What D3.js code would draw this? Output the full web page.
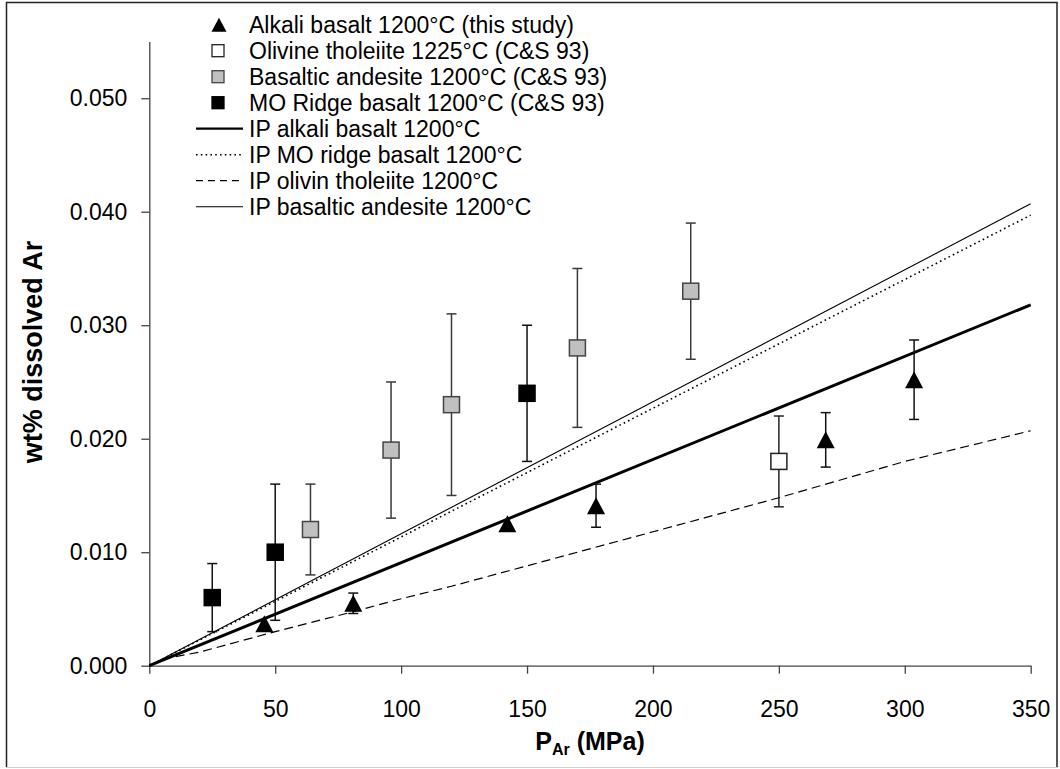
<!DOCTYPE html>
<meta charset="utf-8">
<script src="https://d3js.org/d3.v7.min.js"></script>
<style>
  body { margin: 0; background: #fff; }
  text { font-family: Arial, "Liberation Sans", sans-serif; }
</style>
<div id="chart"></div>
<script>
// measured points: pressure (MPa), dissolved Ar (wt%), error (+/-)
const alkaliP   = [45.7, 81, 142.2, 177.4, 268.6, 303.7];
const alkaliAr  = [0.0037, 0.0055, 0.0125, 0.0141, 0.0199, 0.0252];
const alkaliErr = [0, 0.0009, 0, 0.0019, 0.0024, 0.0035];

const olivineP   = [250];
const olivineAr  = [0.018];
const olivineErr = [0.004];

const andesiteP   = [64, 96, 120, 170, 215];
const andesiteAr  = [0.012, 0.019, 0.023, 0.028, 0.033];
const andesiteErr = [0.004, 0.006, 0.008, 0.007, 0.006];

const morbP   = [25, 50, 150];
const morbAr  = [0.006, 0.010, 0.024];
const morbErr = [0.003, 0.006, 0.006];

// ionic porosity model curves
const ipAlkaliP  = [0, 350];
const ipAlkaliAr = [0, 0.0318];
const ipMorbP  = [0, 350];
const ipMorbAr = [0, 0.0397];
const ipOlivineP  = [0, 8, 20, 50, 80, 100, 120, 140, 200, 240, 250, 300, 350];
const ipOlivineAr = [0, 0.0007, 0.0012, 0.0030, 0.0047, 0.0059, 0.0070, 0.0082, 0.0118, 0.0142, 0.0148, 0.0180, 0.0207];
const ipAndesiteP  = [0, 350];
const ipAndesiteAr = [0, 0.0407];

const xTicks = [0, 50, 100, 150, 200, 250, 300, 350];
const yTicks = [0, 0.01, 0.02, 0.03, 0.04, 0.05];

const legendLabels = [
  "Alkali basalt 1200°C (this study)",
  "Olivine tholeiite 1225°C (C&S 93)",
  "Basaltic andesite 1200°C (C&S 93)",
  "MO Ridge basalt 1200°C (C&S 93)",
  "IP alkali basalt 1200°C",
  "IP MO ridge basalt 1200°C",
  "IP olivin tholeiite 1200°C",
  "IP basaltic andesite 1200°C"
];

const W = 1060, H = 769;
const svg = d3.select("#chart")
  .append("svg")
    .attr("width", W)
    .attr("height", H);

// outer frame
svg.append("path")
  .attr("d", "M6.5,767 V2.5 H1057 V767")
  .attr("fill", "none")
  .attr("stroke", "#222")
  .attr("stroke-width", 1.5);
svg.append("line")
  .attr("x1", 6).attr("x2", 1058).attr("y1", 767.5).attr("y2", 767.5)
  .attr("stroke", "#d0d0d0");

const x = d3.scaleLinear().domain([0, 350]).range([149.3, 1030.7]);
const y = d3.scaleLinear().domain([0, 0.055]).range([665.7, 41.5]);

// axes
const xAxis = svg.append("g")
  .attr("transform", `translate(0,${y(0)})`)
  .call(d3.axisBottom(x).tickValues(xTicks).tickSize(8).tickPadding(27).tickSizeOuter(0));
const yAxis = svg.append("g")
  .attr("transform", `translate(${x(0)},0)`)
  .call(d3.axisLeft(y).tickValues(yTicks).tickSize(8).tickPadding(14).tickSizeOuter(0)
    .tickFormat(d3.format(".3f")));
[xAxis, yAxis].forEach(a => {
  a.select(".domain").attr("stroke", "#444").attr("stroke-width", 1.3);
  a.selectAll(".tick line").attr("stroke", "#444").attr("stroke-width", 1.3);
  a.selectAll(".tick text").attr("font-size", 23).attr("fill", "#000");
});

// axis titles
const xt = svg.append("text")
  .attr("x", 590).attr("y", 750)
  .attr("text-anchor", "middle")
  .attr("font-weight", "bold")
  .attr("font-size", 25);
xt.append("tspan").text("P");
xt.append("tspan").attr("font-size", 16).attr("dy", 5).text("Ar");
xt.append("tspan").attr("dy", -5).text(" (MPa)");

svg.append("text")
  .attr("transform", "translate(41.5,352) rotate(-90)")
  .attr("text-anchor", "middle")
  .attr("font-weight", "bold")
  .attr("font-size", 27)
  .text("wt% dissolved Ar");

// model lines
const lineGen = d3.line().x(d => x(d[0])).y(d => y(d[1]));
const lines = [
  {P: ipOlivineP, Ar: ipOlivineAr, w: 1.2, dash: "9,5"},
  {P: ipMorbP, Ar: ipMorbAr, w: 1.6, dash: "1.6,3.2"},
  {P: ipAndesiteP, Ar: ipAndesiteAr, w: 1.1, dash: null},
  {P: ipAlkaliP, Ar: ipAlkaliAr, w: 3, dash: null}
];
svg.append("g")
  .selectAll("path")
  .data(lines)
  .join("path")
    .attr("d", d => lineGen(d.P.map((p, i) => [p, d.Ar[i]])))
    .attr("fill", "none")
    .attr("stroke", "#000")
    .attr("stroke-width", d => d.w)
    .attr("stroke-dasharray", d => d.dash);

// point series
const series = [
  {P: alkaliP, Ar: alkaliAr, err: alkaliErr, shape: "tri", fill: "#000", stroke: "#000", bar: "#111"},
  {P: olivineP, Ar: olivineAr, err: olivineErr, shape: "sq", fill: "#fff", stroke: "#222", bar: "#222"},
  {P: andesiteP, Ar: andesiteAr, err: andesiteErr, shape: "sq", fill: "#c0c0c0", stroke: "#444", bar: "#3a3a3a"},
  {P: morbP, Ar: morbAr, err: morbErr, shape: "sq", fill: "#000", stroke: "#000", bar: "#111"}
];

const triPath = (cx, cy, w, h) =>
  `M${cx},${cy - h / 2} L${cx + w / 2},${cy + h / 2} L${cx - w / 2},${cy + h / 2} Z`;

series.forEach(s => {
  const pts = s.P.map((p, i) => ({p: p, v: s.Ar[i], e: s.err[i]}));
  const g = svg.append("g");
  // error bars
  const eb = g.selectAll("g.err")
    .data(pts.filter(d => d.e > 0))
    .join("g")
      .attr("stroke", s.bar)
      .attr("stroke-width", 1.5);
  eb.append("line")
    .attr("x1", d => x(d.p)).attr("x2", d => x(d.p))
    .attr("y1", d => y(d.v + d.e)).attr("y2", d => y(d.v - d.e));
  eb.append("line")
    .attr("x1", d => x(d.p) - 5).attr("x2", d => x(d.p) + 5)
    .attr("y1", d => y(d.v + d.e)).attr("y2", d => y(d.v + d.e));
  eb.append("line")
    .attr("x1", d => x(d.p) - 5).attr("x2", d => x(d.p) + 5)
    .attr("y1", d => y(d.v - d.e)).attr("y2", d => y(d.v - d.e));
  // markers
  if (s.shape === "tri") {
    g.selectAll("path.m")
      .data(pts)
      .join("path")
        .attr("d", d => triPath(x(d.p), y(d.v), 18, 17))
        .attr("fill", s.fill);
  } else {
    g.selectAll("rect.m")
      .data(pts)
      .join("rect")
        .attr("x", d => x(d.p) - 8).attr("y", d => y(d.v) - 8)
        .attr("width", 16).attr("height", 16)
        .attr("fill", s.fill)
        .attr("stroke", s.stroke)
        .attr("stroke-width", 1.5);
  }
});

// legend
const leg = svg.append("g");
const rowY = i => 24.7 + 26 * i;
leg.selectAll("text")
  .data(legendLabels)
  .join("text")
    .attr("x", 249)
    .attr("y", (d, i) => rowY(i) + 8.2)
    .attr("font-size", 23)
    .text(d => d);
leg.append("path")
  .attr("d", triPath(219, rowY(0), 15, 14))
  .attr("fill", "#000");
series.slice(1).forEach((s, k) => {
  leg.append("rect")
    .attr("x", 212).attr("y", rowY(k + 1) - 6)
    .attr("width", 12).attr("height", 12)
    .attr("fill", s.fill)
    .attr("stroke", s.stroke)
    .attr("stroke-width", 1.3);
});
const legLines = [lines[3], lines[1], lines[0], lines[2]];
legLines.forEach((l, k) => {
  leg.append("line")
    .attr("x1", 196).attr("x2", 243)
    .attr("y1", rowY(k + 4)).attr("y2", rowY(k + 4))
    .attr("stroke", "#000")
    .attr("stroke-width", l.w === 3 ? 2.2 : l.w)
    .attr("stroke-dasharray", l.dash === "9,5" ? "7,5" : l.dash);
});
</script>
